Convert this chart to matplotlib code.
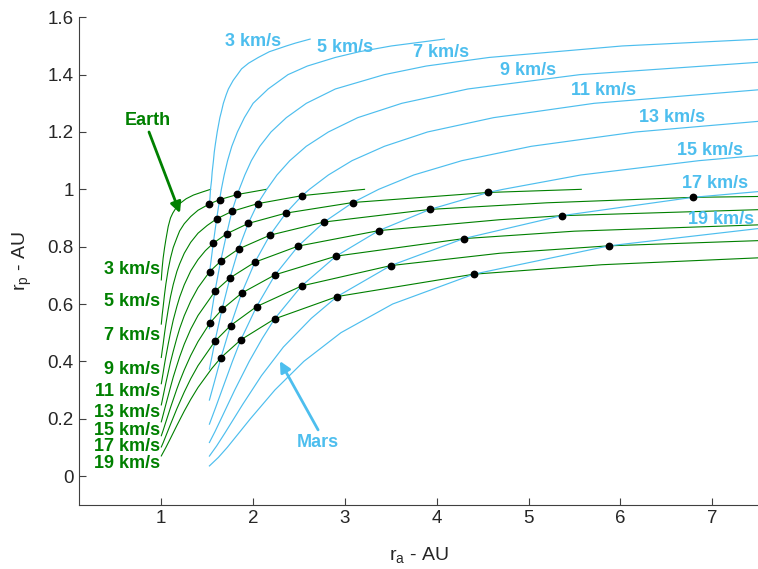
import matplotlib
matplotlib.use("Agg")
import matplotlib.pyplot as plt

plt.rcParams['font.family'] = ['Liberation Sans', 'DejaVu Sans']
plt.rcParams['mathtext.default'] = 'regular'

# ---------------- data ----------------
# Earth v_inf contours (green): r_a and r_p in AU
E3_ra = [1.0, 1.005, 1.01, 1.02, 1.035, 1.05, 1.075, 1.1, 1.125, 1.15, 1.2, 1.27, 1.35, 1.45, 1.537]
E3_rp = [0.684, 0.708, 0.728, 0.76, 0.795, 0.825, 0.87, 0.90, 0.917, 0.93, 0.95, 0.967, 0.98, 0.991, 1.0]
E5_ra = [1.0, 1.01, 1.02, 1.035, 1.05, 1.075, 1.1, 1.13, 1.17, 1.2, 1.25, 1.32, 1.4, 1.524, 1.635, 1.829, 2.145]
E5_rp = [0.53, 0.563, 0.59, 0.633, 0.67, 0.72, 0.76, 0.797, 0.831, 0.855, 0.88, 0.905, 0.927, 0.949, 0.964, 0.982, 1.0]
E7_ra = [1.0, 1.01, 1.02, 1.035, 1.05, 1.075, 1.1, 1.13, 1.17, 1.2, 1.25, 1.32, 1.4, 1.5, 1.603, 1.769, 2.049, 2.534, 3.214]
E7_rp = [0.4135, 0.438, 0.46, 0.497, 0.53, 0.58, 0.625, 0.668, 0.714, 0.74, 0.777, 0.815, 0.847, 0.874, 0.897, 0.923, 0.950, 0.978, 1.0]
E9_ra = [1.0, 1.01, 1.02, 1.035, 1.05, 1.075, 1.1, 1.13, 1.17, 1.2, 1.25, 1.32, 1.4, 1.48, 1.566, 1.712, 1.947, 2.357, 3.086, 4.560, 5.575]
E9_rp = [0.322, 0.341, 0.36, 0.39, 0.417, 0.46, 0.5, 0.544, 0.592, 0.624, 0.667, 0.715, 0.755, 0.786, 0.812, 0.845, 0.881, 0.917, 0.954, 0.989, 1.0]
E11_ra = [1.0, 1.01, 1.02, 1.035, 1.05, 1.075, 1.1, 1.13, 1.17, 1.2, 1.25, 1.32, 1.4, 1.527, 1.646, 1.842, 2.183, 2.774, 3.927, 5.2, 6.789, 7.5]
E11_rp = [0.248, 0.263, 0.279, 0.302, 0.325, 0.361, 0.397, 0.435, 0.482, 0.5145, 0.559, 0.61, 0.657, 0.713, 0.749, 0.792, 0.840, 0.886, 0.930, 0.953, 0.972, 0.975]
E13_ra = [1.0, 1.01, 1.02, 1.035, 1.05, 1.075, 1.1, 1.13, 1.17, 1.2, 1.25, 1.32, 1.4, 1.584, 1.748, 2.020, 2.491, 3.369, 4.686, 5.360, 7.5]
E13_rp = [0.189, 0.201, 0.2135, 0.232, 0.25, 0.28, 0.31, 0.345, 0.386, 0.416, 0.46, 0.512, 0.56, 0.644, 0.691, 0.746, 0.802, 0.856, 0.894, 0.908, 0.929]
E15_ra = [1.0, 1.02, 1.05, 1.1, 1.17, 1.2, 1.25, 1.32, 1.4, 1.530, 1.661, 1.875, 2.240, 2.904, 4.292, 5.5, 7.5]
E15_rp = [0.1405, 0.159, 0.189, 0.2385, 0.304, 0.33, 0.37, 0.42, 0.469, 0.534, 0.581, 0.638, 0.702, 0.767, 0.828, 0.854, 0.876]
E17_ra = [1.0, 1.02, 1.05, 1.1, 1.17, 1.25, 1.32, 1.4, 1.584, 1.755, 2.038, 2.528, 3.499, 4.686, 5.879, 7.5]
E17_rp = [0.1014, 0.116, 0.14, 0.18, 0.235, 0.293, 0.339, 0.385, 0.470, 0.525, 0.591, 0.663, 0.734, 0.777, 0.803, 0.821]
E19_ra = [1.0, 1.02, 1.05, 1.1, 1.17, 1.25, 1.32, 1.4, 1.55, 1.650, 1.866, 2.234, 2.915, 4.403, 5.8, 7.5]
E19_rp = [0.0701, 0.082, 0.0997, 0.1313, 0.1765, 0.2265, 0.267, 0.309, 0.375, 0.413, 0.475, 0.548, 0.626, 0.704, 0.737, 0.761]

# Mars v_inf contours (light blue)
M3_ra = [1.524, 1.530, 1.536, 1.547, 1.554, 1.568, 1.577, 1.590, 1.609, 1.638, 1.654, 1.676, 1.707,
         1.731, 1.783, 1.829, 1.874, 1.951, 2.057, 2.177, 2.362, 2.461, 2.621]
M3_rp = [0.948, 0.97, 1.0, 1.03, 1.06, 1.1, 1.13, 1.16, 1.2, 1.25, 1.27, 1.3, 1.33,
         1.35, 1.38, 1.4, 1.42, 1.44, 1.46, 1.48, 1.5, 1.51, 1.524]
M5_ra = [1.524, 1.527, 1.566, 1.603, 1.635, 1.654, 1.685, 1.722, 1.768, 1.829, 1.905, 2.0, 2.164, 2.38,
         2.591, 2.896, 3.158, 3.505, 4.084]
M5_rp = [0.698, 0.713, 0.812, 0.897, 0.964, 1.0, 1.05, 1.1, 1.15, 1.2, 1.25, 1.3, 1.35, 1.4,
         1.43, 1.46, 1.48, 1.5, 1.524]
M7_ra = [1.524, 1.530, 1.584, 1.646, 1.712, 1.769, 1.829, 1.849, 1.910, 1.981, 2.073, 2.195, 2.362, 2.58,
         2.896, 3.429, 3.886, 4.572, 6.02, 7.54]
M7_rp = [0.514, 0.534, 0.644, 0.749, 0.845, 0.923, 0.982, 1.0, 1.05, 1.1, 1.15, 1.2, 1.25, 1.3,
         1.35, 1.4, 1.43, 1.46, 1.5, 1.524]
M9_ra = [1.524, 1.554, 1.584, 1.661, 1.748, 1.842, 1.947, 2.049, 2.149, 2.26, 2.40, 2.579, 2.82, 3.14,
         3.62, 4.34, 5.56, 7.5]
M9_rp = [0.373, 0.42, 0.470, 0.581, 0.691, 0.792, 0.881, 0.950, 1.0, 1.05, 1.1, 1.15, 1.2, 1.25,
         1.3, 1.35, 1.4, 1.443]
M11_ra = [1.524, 1.580, 1.650, 1.755, 1.875, 2.020, 2.183, 2.357, 2.534, 2.614, 2.82, 3.078, 3.43, 3.90,
          4.62, 5.715, 7.5]
M11_rp = [0.265, 0.33, 0.413, 0.525, 0.638, 0.746, 0.840, 0.917, 0.978, 1.0, 1.05, 1.1, 1.15, 1.2,
          1.25, 1.3, 1.347]
M13_ra = [1.524, 1.593, 1.661, 1.775, 1.866, 2.038, 2.240, 2.491, 2.774, 3.086, 3.368, 3.75, 4.275,
          5.03, 6.17, 7.5]
M13_rp = [0.181, 0.24, 0.3, 0.4, 0.475, 0.591, 0.702, 0.802, 0.886, 0.954, 1.0, 1.05, 1.1,
          1.15, 1.2, 1.237]
M15_ra = [1.524, 1.585, 1.652, 1.80, 1.958, 2.10, 2.234, 2.528, 2.904, 3.369, 3.927, 4.560, 4.724,
          5.57, 6.858, 7.5]
M15_rp = [0.117, 0.155, 0.2, 0.3, 0.4, 0.48, 0.548, 0.663, 0.767, 0.856, 0.930, 0.989, 1.0,
          1.05, 1.1, 1.118]
M17_ra = [1.524, 1.603, 1.693, 1.887, 2.091, 2.33, 2.634, 2.915, 3.499, 4.292, 5.360, 6.789, 7.5]
M17_rp = [0.0696, 0.105, 0.15, 0.25, 0.35, 0.45, 0.55, 0.626, 0.734, 0.828, 0.908, 0.972, 0.992]
M19_ra = [1.524, 1.622, 1.719, 1.971, 2.237, 2.553, 2.957, 3.52, 4.403, 5.879, 7.5]
M19_rp = [0.0352, 0.065, 0.1, 0.2, 0.3, 0.4, 0.5, 0.6, 0.704, 0.803, 0.863]

# intersection points (black dots)
dot_ra = [1.524, 1.635, 1.829,
          1.603, 1.769, 2.049, 2.534,
          1.566, 1.712, 1.947, 2.357, 3.086, 4.560,
          1.527, 1.646, 1.842, 2.183, 2.774, 3.927, 6.789,
          1.584, 1.748, 2.020, 2.491, 3.369, 5.360,
          1.530, 1.661, 1.875, 2.240, 2.904, 4.292,
          1.584, 1.755, 2.038, 2.528, 3.499, 5.879,
          1.650, 1.866, 2.234, 2.915, 4.403]
dot_rp = [0.949, 0.964, 0.982,
          0.897, 0.923, 0.950, 0.978,
          0.812, 0.845, 0.881, 0.917, 0.954, 0.989,
          0.713, 0.749, 0.792, 0.840, 0.886, 0.930, 0.972,
          0.644, 0.691, 0.746, 0.802, 0.856, 0.908,
          0.534, 0.581, 0.638, 0.702, 0.767, 0.828,
          0.470, 0.525, 0.591, 0.663, 0.734, 0.803,
          0.413, 0.475, 0.548, 0.626, 0.704]

speed_labels = ['3 km/s', '5 km/s', '7 km/s', '9 km/s', '11 km/s',
                '13 km/s', '15 km/s', '17 km/s', '19 km/s']
x_ticks = [1, 2, 3, 4, 5, 6, 7]
y_ticks = [0, 0.2, 0.4, 0.6, 0.8, 1.0, 1.2, 1.4, 1.6]
y_ticklabels = ['0', '0.2', '0.4', '0.6', '0.8', '1', '1.2', '1.4', '1.6']

earth_curves = [(E3_ra, E3_rp), (E5_ra, E5_rp), (E7_ra, E7_rp), (E9_ra, E9_rp),
                (E11_ra, E11_rp), (E13_ra, E13_rp), (E15_ra, E15_rp),
                (E17_ra, E17_rp), (E19_ra, E19_rp)]
mars_curves = [(M3_ra, M3_rp), (M5_ra, M5_rp), (M7_ra, M7_rp), (M9_ra, M9_rp),
               (M11_ra, M11_rp), (M13_ra, M13_rp), (M15_ra, M15_rp),
               (M17_ra, M17_rp), (M19_ra, M19_rp)]

# ---------------- styling ----------------
GREEN = '#008000'
BLUE = '#4DBEEE'
AXC = '#404040'

fig = plt.figure(figsize=(7.58, 5.69), dpi=100)
ax = fig.add_axes([0.1038, 0.113, 0.8962, 0.8566])

for ra, rp in earth_curves:
    ax.plot(ra, rp, color=GREEN, lw=0.8, solid_joinstyle='round')
for ra, rp in mars_curves:
    ax.plot(ra, rp, color=BLUE, lw=0.85, solid_joinstyle='round')
ax.plot(dot_ra, dot_rp, 'o', color='black', ms=4.6, zorder=5)

# Earth labels (left of r_a = 1)
earth_label_y = [0.721, 0.608, 0.489, 0.372, 0.296, 0.223, 0.159, 0.103, 0.044]
for lab, y in zip(speed_labels, earth_label_y):
    ax.text(0.99, y, lab, color=GREEN, fontsize=13, fontweight='bold',
            ha='right', va='center')

# Mars labels
mars_label_pos = [(1.695, 1.515), (2.691, 1.495), (3.742, 1.478), (4.686, 1.413),
                  (5.466, 1.343), (6.201, 1.25), (6.619, 1.137), (6.673, 1.02),
                  (6.74, 0.896)]
for lab, (x, y) in zip(speed_labels, mars_label_pos):
    ax.text(x, y, lab, color=BLUE, fontsize=13, fontweight='bold',
            ha='left', va='center')

# annotations
ax.text(0.848, 1.241, 'Earth', color=GREEN, fontsize=13, fontweight='bold',
        ha='center', va='center')
ax.annotate('', xy=(1.203, 0.917), xytext=(0.866, 1.200),
            arrowprops=dict(arrowstyle='-|>', color=GREEN, lw=2,
                            mutation_scale=16, shrinkA=0, shrinkB=0))
ax.text(2.708, 0.1155, 'Mars', color=BLUE, fontsize=13, fontweight='bold',
        ha='center', va='center')
ax.annotate('', xy=(2.292, 0.401), xytext=(2.708, 0.161),
            arrowprops=dict(arrowstyle='-|>', color=BLUE, lw=2,
                            mutation_scale=16, shrinkA=0, shrinkB=0))

ax.set_xlim(0.1, 7.5)
ax.set_ylim(-0.1, 1.6)
ax.set_xticks(x_ticks)
ax.set_xticklabels([str(t) for t in x_ticks])
ax.set_yticks(y_ticks)
ax.set_yticklabels(y_ticklabels)
ax.spines['top'].set_visible(False)
ax.spines['right'].set_visible(False)
for s in ('left', 'bottom'):
    ax.spines[s].set_color(AXC)
    ax.spines[s].set_linewidth(0.8)
ax.tick_params(direction='in', length=5, width=0.8, color=AXC,
               labelcolor='#262626', labelsize=13.5)
ax.set_xlabel('r$_a$ - AU', fontsize=14, color='#262626', labelpad=13)
ax.set_ylabel('r$_p$ - AU', fontsize=14, color='#262626', labelpad=10)

fig.savefig('out.png', dpi=100)
